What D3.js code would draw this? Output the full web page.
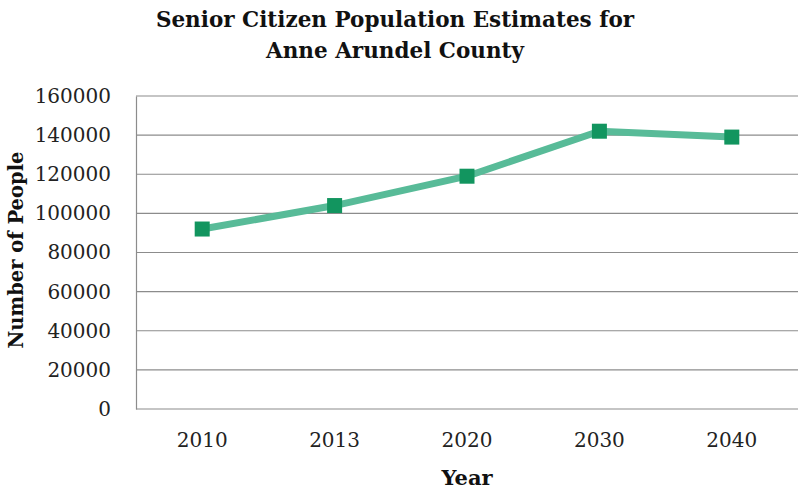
<!DOCTYPE html>
<html>
<head>
<meta charset="utf-8">
<script src="https://cdn.jsdelivr.net/npm/d3@7"></script>
<style>
  html, body { margin: 0; padding: 0; background: #fff; }
  svg { display: block; }
  text { font-family: "DejaVu Serif", "Liberation Serif", serif; }
</style>
</head>
<body>
<script>
// Senior citizen population estimates, Anne Arundel County
const years = ["2010", "2013", "2020", "2030", "2040"];
const population = [92000, 104000, 119000, 142000, 139000];
const yTicks = [0, 20000, 40000, 60000, 80000, 100000, 120000, 140000, 160000];
const titleLines = ["Senior Citizen Population Estimates for", "Anne Arundel County"];

const W = 801, H = 491;
const margin = { left: 136, right: 3, top: 96, bottom: 82 };

const svg = d3.select("body").append("svg").attr("width", W).attr("height", H);

const x = d3.scaleBand().domain(years).range([margin.left, W - margin.right]);
const y = d3.scaleLinear().domain([0, 160000]).range([H - margin.bottom, margin.top]);

// Horizontal gridlines
svg.append("g")
  .selectAll("line")
  .data(yTicks)
  .join("line")
  .attr("x1", margin.left)
  .attr("x2", W - margin.right)
  .attr("y1", d => y(d))
  .attr("y2", d => y(d))
  .attr("stroke", "#8c8c8c")
  .attr("stroke-width", 1.2);

// Y axis
const yAxis = svg.append("g")
  .attr("transform", `translate(${margin.left},0)`)
  .call(d3.axisLeft(y).tickValues(yTicks).tickSize(0).tickPadding(25).tickFormat(d3.format("d")));
yAxis.select(".domain").attr("stroke", "#8c8c8c").attr("stroke-width", 1.2);
yAxis.selectAll("text").attr("font-size", 20).attr("fill", "#222");

// X axis labels
const xAxis = svg.append("g")
  .attr("transform", `translate(0,${y(0)})`)
  .call(d3.axisBottom(x).tickSize(0).tickPadding(24));
xAxis.select(".domain").remove();
xAxis.selectAll("text").attr("font-size", 20).attr("fill", "#222");

// Series line
const line = d3.line()
  .x((d, i) => x(years[i]) + x.bandwidth() / 2)
  .y(d => y(d));

svg.append("path")
  .datum(population)
  .attr("d", line)
  .attr("fill", "none")
  .attr("stroke", "#58bb98")
  .attr("stroke-width", 7)
  .attr("stroke-linejoin", "round");

// Square markers
const m = 15;
svg.append("g")
  .selectAll("rect")
  .data(population)
  .join("rect")
  .attr("x", (d, i) => x(years[i]) + x.bandwidth() / 2 - m / 2)
  .attr("y", d => y(d) - m / 2)
  .attr("width", m)
  .attr("height", m)
  .attr("fill", "#12955f");

// Title
svg.append("text")
  .attr("text-anchor", "middle")
  .attr("font-weight", "bold")
  .attr("font-size", 21.5)
  .attr("fill", "#111")
  .selectAll("tspan")
  .data(titleLines)
  .join("tspan")
  .attr("x", 395)
  .attr("y", (d, i) => 27 + i * 31)
  .text(d => d);

// Axis titles
svg.append("text")
  .attr("x", x("2020") + x.bandwidth() / 2)
  .attr("y", 485)
  .attr("text-anchor", "middle")
  .attr("font-weight", "bold")
  .attr("font-size", 21)
  .attr("fill", "#111")
  .text("Year");

svg.append("text")
  .attr("transform", `translate(23,250) rotate(-90)`)
  .attr("text-anchor", "middle")
  .attr("font-weight", "bold")
  .attr("font-size", 19.5)
  .attr("fill", "#111")
  .text("Number of People");
</script>
</body>
</html>
